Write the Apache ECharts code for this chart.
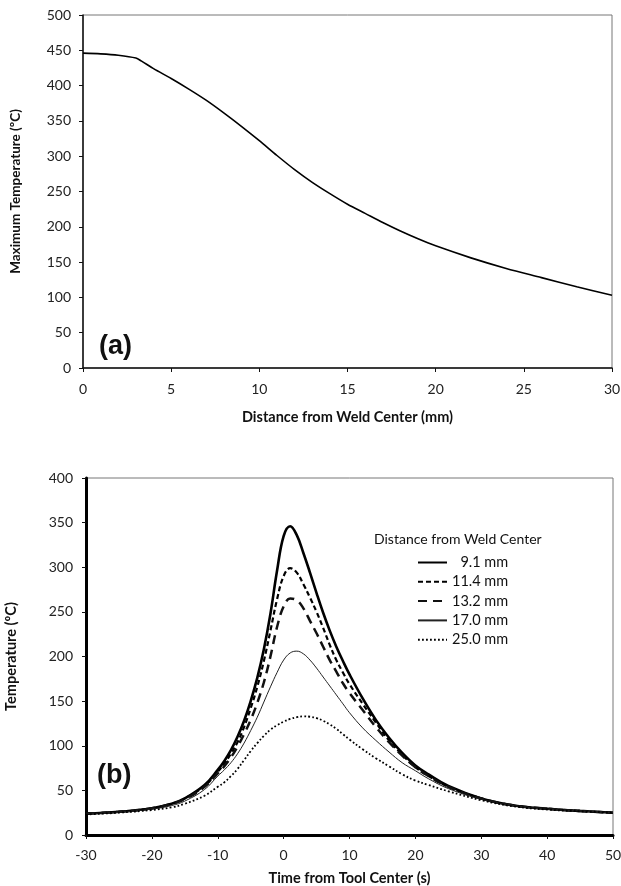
<!DOCTYPE html>
<html>
<head>
<meta charset="utf-8">
<script src="https://cdn.jsdelivr.net/npm/echarts@6/dist/echarts.min.js"></script>
<style>
  html, body { margin: 0; padding: 0; background: #fff; }
  #chart { width: 621px; height: 886px; }
</style>
</head>
<body>
<div id="chart"></div>
<script>
// (a) max temperature vs distance from weld center
var distA = [0, 1, 2, 3, 3.3, 4, 5, 6, 7, 8, 9, 10, 11, 12, 13, 14, 15, 16, 17, 18, 19, 20, 22, 24, 26, 28, 30];
var tempA = [446, 445, 443, 439, 435, 424, 410, 395, 379, 361, 342, 322, 301, 281, 263, 247, 232, 219, 206, 194, 183, 173, 156, 141, 128, 115, 103];

// (b) temperature history vs time from tool center
var timeB = [-30, -25, -20, -17, -15, -12, -10, -9, -8, -7, -6, -5, -4, -3, -2, -1, 0, 1, 2, 3, 4, 5, 6, 7, 8, 9, 10, 12, 14, 16, 18, 20, 22, 25, 30, 35, 40, 45, 50];
var t91  = [24, 26, 30, 35, 41, 56, 73, 83, 95, 110, 128, 150, 176, 208, 248, 296, 335, 346, 336, 316, 294, 271, 249, 229, 211, 195, 180, 153, 129, 109, 92, 78, 68, 55, 41, 33, 29.5, 27, 25];
var t114 = [24, 26, 30, 35, 41, 55, 71, 80, 91, 104, 121, 142, 166, 195, 229, 264, 290, 299, 294, 281, 266, 250, 232, 213, 196, 182, 169, 147, 126, 106, 90, 76, 66, 54, 41, 33, 29.5, 27, 25];
var t132 = [24, 26, 30, 35, 40, 54, 69, 77, 87, 99, 113, 129, 148, 171, 200, 233, 256, 265, 263, 254, 240, 226, 211, 196, 183, 170, 159, 140, 121, 104, 89, 76, 66, 54, 41, 33, 29.5, 27, 25];
var t170 = [24, 25.5, 29, 33, 38, 51, 66, 73, 81, 91, 103, 117, 132, 149, 166, 182, 196, 204, 206, 203, 196, 187, 177, 167, 157, 147, 137, 120, 106, 93, 81, 72, 63, 52, 40, 33, 29, 27, 25];
var t250 = [23, 25, 28, 31, 35, 44, 54, 59, 66, 74, 84, 94, 103, 111, 118, 123, 127, 130, 132, 133, 132.5, 131, 128, 124, 119, 113, 107, 96, 86, 77, 68, 61, 56, 49, 39, 32, 28.5, 26.5, 25];

var names = ['\u20079.1 mm', '11.4 mm', '13.2 mm', '17.0 mm', '25.0 mm'];

function pairs(xs, ys) {
  return xs.map(function(x, i) { return [x, ys[i]]; });
}

var font = 'Lato, "Open Sans", sans-serif';
var labelStyle = { color: '#222', fontSize: 14, fontFamily: font };
var nameStyle = { color: '#111', fontSize: 14.5, fontWeight: 'bold', fontFamily: font };
var thinAxis = { show: true, onZero: false, lineStyle: { color: '#111', width: 1.5 } };
var thickAxis = { show: true, onZero: false, lineStyle: { color: '#000', width: 3 } };

var myChart = echarts.init(document.getElementById('chart'));
var option = {
  animation: false,
  backgroundColor: '#fff',
  title: {
    text: 'Distance from Weld Center',
    left: 369, top: 527,
    textStyle: { color: '#111', fontSize: 14, fontWeight: 'normal', fontFamily: font }
  },
  legend: {
    data: names,
    orient: 'vertical',
    left: 417, top: 555, padding: 0,
    itemWidth: 29, itemHeight: 14, itemGap: 4.3,
    itemStyle: { opacity: 0 },
    textStyle: { color: '#111', fontSize: 14.5, fontFamily: font }
  },
  grid: [
    { left: 83, right: 9, top: 15, height: 353, show: true, borderColor: '#777', borderWidth: 1, outerBoundsMode: 'none' },
    { left: 86, right: 8, top: 478, height: 357, show: true, borderColor: '#777', borderWidth: 1, outerBoundsMode: 'none' }
  ],
  xAxis: [
    {
      gridIndex: 0, type: 'value', min: 0, max: 30, interval: 5,
      name: 'Distance from Weld Center (mm)', nameLocation: 'middle', nameGap: 42,
      nameTextStyle: nameStyle,
      axisLine: thinAxis, axisTick: { length: 4, lineStyle: { color: '#111' } },
      axisLabel: Object.assign({ margin: 14 }, labelStyle),
      splitLine: { show: false }
    },
    {
      gridIndex: 1, type: 'value', min: -30, max: 50, interval: 10,
      name: 'Time from Tool Center (s)', nameLocation: 'middle', nameGap: 36,
      nameTextStyle: nameStyle,
      axisLine: thickAxis, axisTick: { length: 4, lineStyle: { color: '#111' } },
      axisLabel: Object.assign({ margin: 13 }, labelStyle),
      splitLine: { show: false }
    }
  ],
  yAxis: [
    {
      gridIndex: 0, type: 'value', min: 0, max: 500, interval: 50,
      name: 'Maximum Temperature (ºC)', nameLocation: 'middle', nameGap: 60,
      nameTextStyle: Object.assign({}, nameStyle, { fontSize: 13.5 }),
      axisLine: thinAxis, axisTick: { length: 4, lineStyle: { color: '#111' } },
      axisLabel: Object.assign({ margin: 12 }, labelStyle),
      splitLine: { show: false }
    },
    {
      gridIndex: 1, type: 'value', min: 0, max: 400, interval: 50,
      name: 'Temperature (ºC)', nameLocation: 'middle', nameGap: 67,
      nameTextStyle: nameStyle,
      axisLine: thickAxis, axisTick: { length: 4, lineStyle: { color: '#111' } },
      axisLabel: Object.assign({ margin: 13 }, labelStyle),
      splitLine: { show: false }
    }
  ],
  graphic: [
    { type: 'text', left: 99, top: 333, style: { text: '(a)', fill: '#111', font: 'bold 27px "Liberation Sans", Arial, sans-serif' } },
    { type: 'text', left: 97, top: 762, style: { text: '(b)', fill: '#111', font: 'bold 27px "Liberation Sans", Arial, sans-serif' } }
  ],
  series: [
    {
      name: 'maxT', type: 'line', xAxisIndex: 0, yAxisIndex: 0,
      data: pairs(distA, tempA), showSymbol: false, symbol: 'none', smooth: 0.3,
      lineStyle: { color: '#000', width: 1.6 }
    },
    {
      name: names[0], type: 'line', xAxisIndex: 1, yAxisIndex: 1,
      data: pairs(timeB, t91), showSymbol: false, symbol: 'none', smooth: 0.4,
      itemStyle: { color: '#000' },
      lineStyle: { color: '#000', width: 2.6 }
    },
    {
      name: names[1], type: 'line', xAxisIndex: 1, yAxisIndex: 1,
      data: pairs(timeB, t114), showSymbol: false, symbol: 'none', smooth: 0.4,
      itemStyle: { color: '#000' },
      lineStyle: { color: '#000', width: 2.2, type: [5, 3] }
    },
    {
      name: names[2], type: 'line', xAxisIndex: 1, yAxisIndex: 1,
      data: pairs(timeB, t132), showSymbol: false, symbol: 'none', smooth: 0.4,
      itemStyle: { color: '#000' },
      lineStyle: { color: '#111', width: 2.5, type: [9, 6] }
    },
    {
      name: names[3], type: 'line', xAxisIndex: 1, yAxisIndex: 1,
      data: pairs(timeB, t170), showSymbol: false, symbol: 'none', smooth: 0.4,
      itemStyle: { color: '#222' },
      lineStyle: { color: '#222', width: 1 }
    },
    {
      name: names[4], type: 'line', xAxisIndex: 1, yAxisIndex: 1,
      data: pairs(timeB, t250), showSymbol: false, symbol: 'none', smooth: 0.4,
      itemStyle: { color: '#000' },
      lineStyle: { color: '#000', width: 1.8, type: [1.8, 2.2] }
    }
  ]
};
myChart.setOption(option);
</script>
</body>
</html>
